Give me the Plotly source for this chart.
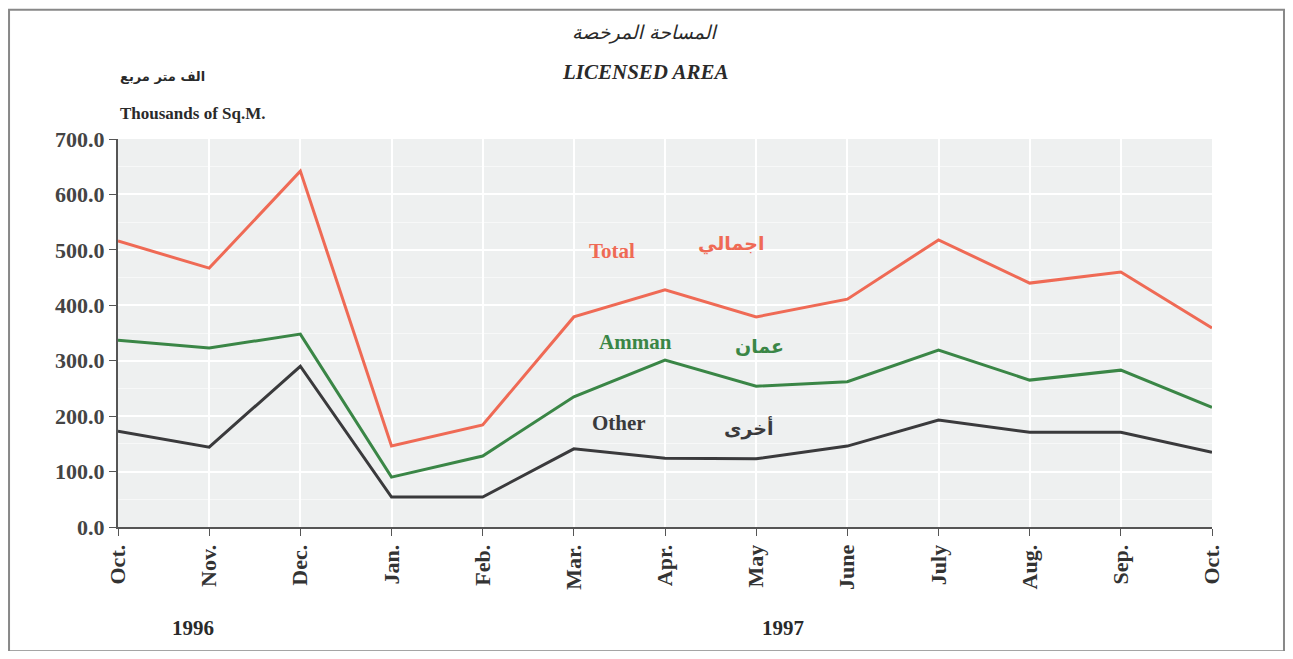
import plotly.graph_objects as go

SERIF = "Liberation Serif, Times New Roman, serif"
ARABIC = "DejaVu Sans, Noto Sans, sans-serif"

RED = "#ef6a55"
GREEN = "#3a8646"
DARK = "#3a3a3c"

months = ["Oct.", "Nov.", "Dec.", "Jan.", "Feb.", "Mar.", "Apr.", "May",
          "June", "July", "Aug.", "Sep.", "Oct."]
total = [516, 467, 642, 146, 184, 379, 428, 379, 411, 518, 440, 460, 359]
amman = [337, 323, 348, 90, 128, 235, 301, 254, 262, 319, 265, 283, 216]
other = [173, 144, 290, 54, 54, 141, 124, 123, 146, 193, 171, 171, 135]
y_ticks = [0, 100, 200, 300, 400, 500, 600, 700]

x = list(range(len(months)))

fig = go.Figure()
for name, vals, col in [("Total", total, RED), ("Amman", amman, GREEN), ("Other", other, DARK)]:
    fig.add_trace(go.Scatter(x=x, y=vals, mode="lines", name=name,
                             line=dict(color=col, width=3), hoverinfo="y"))

# series labels inside the plot (English + Arabic)
labels = [
    (5.42, 498, "Total", RED, SERIF), (6.72, 512, "اجمالي", RED, ARABIC),
    (5.68, 334, "Amman", GREEN, SERIF), (7.04, 326, "عمان", GREEN, ARABIC),
    (5.5, 188, "Other", DARK, SERIF), (6.92, 178, "أخرى", DARK, ARABIC),
]
for lx, ly, txt, col, fam in labels:
    fig.add_annotation(x=lx, y=ly, text=f"<b>{txt}</b>", showarrow=False, xanchor="center",
                       font=dict(family=fam, size=21 if fam == SERIF else 19, color=col))

# titles and axis notes
notes = [
    (0.482, 1.309, "<i>المساحة المرخصة</i>", ARABIC, 19, "center"),
    (0.482, 1.209, "<b><i>LICENSED AREA</i></b>", SERIF, 21, "center"),
    (0.0, 1.185, "<b>الف متر مربع</b>", ARABIC, 13, "left"),
    (0.0, 1.095, "<b>Thousands of Sq.M.</b>", SERIF, 17, "left"),
    (0.0686, -0.296, "<b>1996</b>", SERIF, 21, "center"),
    (0.608, -0.296, "<b>1997</b>", SERIF, 21, "center"),
]
for nx, ny, txt, fam, size, anchor in notes:
    fig.add_annotation(x=nx, y=ny, xref="paper", yref="paper", text=txt, xanchor=anchor,
                       showarrow=False, font=dict(family=fam, size=size, color="#2a2a2a"))

# page frame
fig.add_shape(type="rect", xref="paper", yref="paper", x0=-0.0996, x1=1.0658, y0=-0.32, y1=1.333,
              line=dict(color="#888", width=2), fillcolor="rgba(0,0,0,0)", layer="below")

fig.update_layout(
    width=1277, height=643,
    margin=dict(l=110, r=73, t=131, b=124),
    paper_bgcolor="white", plot_bgcolor="#eef0f0",
    showlegend=False,
    font=dict(family=SERIF, color="#333"),
)
fig.update_xaxes(range=[0, 12], tickvals=x, ticktext=[f"<b>{m}</b>" for m in months],
                 tickangle=-90, tickfont=dict(family=SERIF, size=22, color="#333"),
                 showgrid=True, gridcolor="white", gridwidth=1.5,
                 showline=True, linecolor="#555", linewidth=2,
                 ticks="outside", ticklen=7, tickcolor="#555", zeroline=False)
fig.update_yaxes(range=[0, 700], tickvals=y_ticks, ticktext=[f"<b>{v:.1f}</b>" for v in y_ticks],
                 tickfont=dict(family=SERIF, size=22, color="#444"),
                 showgrid=True, gridcolor="white", gridwidth=1.5,
                 minor=dict(dtick=50, showgrid=True, gridcolor="#f7f8f8", gridwidth=1),
                 showline=True, linecolor="#555", linewidth=2,
                 ticks="outside", ticklen=7, tickcolor="#555", zeroline=False)

fig.write_html("out.html")
